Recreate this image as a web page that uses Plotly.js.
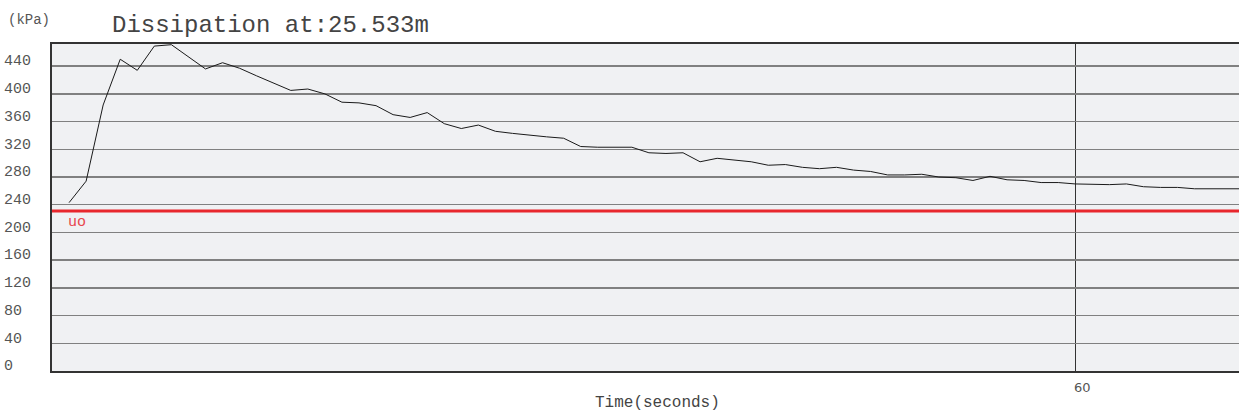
<!DOCTYPE html>
<html>
<head>
<meta charset="utf-8">
<script src="https://cdn.plot.ly/plotly-3.0.1.min.js"></script>
<style>
html,body{margin:0;padding:0;background:#fff;}
#chart{width:1239px;height:413px;}
</style>
</head>
<body>
<div id="chart"></div>
<script>
// Time (seconds)
const timeSec = [1,2,3,4,5,6,7,8,9,10,11,12,13,14,15,16,17,18,19,20,
  21,22,23,24,25,26,27,28,29,30,31,32,33,34,35,36,37,38,39,40,
  41,42,43,44,45,46,47,48,49,50,51,52,53,54,55,56,57,58,59,60,
  61,62,63,64,65,66,67,68,69,70];
// Pore pressure (kPa)
const pressure = [243,274,384,450,434,469,471,454,436,445,437,426,416,405,407,400,388,387,383,370,
  366,373,357,350,355,346,343,340,338,336,324,323,323,323,315,314,315,302,307,304,
  302,297,298,294,292,294,290,288,283,283,284,280,279,275,281,276,275,272,272,270,
  269,269,270,266,265,265,263,263,263,263];
// Reference line uo (kPa)
const uoValue = [231];
const uoLabel = ["uo"];
// Axis ticks
const yTickVals = [0,40,80,120,160,200,240,280,320,360,400,440];
const xTickVals = [60];
const xTickText = ["60"];
const titleText = "Dissipation at:25.533m";
const unitText = "(kPa)";
const xTitleText = "Time(seconds)";

const mono = "'Courier New', Courier, 'Liberation Mono', monospace";
const yTickText = yTickVals.map(v => {
  let s = String(v);
  while (s.length < 3) s += "\u00a0";
  return s;
});

const traces = [{
  type: "scatter",
  mode: "lines",
  x: timeSec,
  y: pressure,
  line: {color: "#1a1a1a", width: 1},
  hoverinfo: "x+y",
  showlegend: false,
  cliponaxis: true
}];

const layout = {
  width: 1239,
  height: 413,
  margin: {l: 52, r: 0, t: 44, b: 42, pad: 0},
  paper_bgcolor: "#ffffff",
  plot_bgcolor: "#f0f1f3",
  showlegend: false,
  title: {
    text: titleText,
    font: {family: mono, size: 24, color: "#444444"},
    xref: "container", yref: "container",
    x: 112/1239, xanchor: "left",
    y: 1 - 24/413, yanchor: "middle"
  },
  xaxis: {
    range: [0, 69.6],
    tickvals: xTickVals,
    ticktext: xTickText,
    ticks: "",
    showgrid: true,
    gridcolor: "#333333",
    gridwidth: 1,
    zeroline: false,
    showline: true,
    linecolor: "#333333",
    linewidth: 2,
    mirror: true,
    tickfont: {family: "'DejaVu Sans', sans-serif", size: 13, color: "#555555"},
    ticklabelshift: 7,
    ticklabelstandoff: 3,
    fixedrange: true
  },
  yaxis: {
    range: [0, 472],
    tickvals: yTickVals,
    ticktext: yTickText,
    ticks: "",
    showgrid: true,
    gridcolor: "#808080",
    gridwidth: 1.5,
    zeroline: false,
    showline: true,
    linecolor: "#333333",
    linewidth: 2,
    mirror: true,
    tickfont: {family: mono, size: 15, color: "#555555"},
    ticklabelshift: -6,
    ticklabelstandoff: 16,
    fixedrange: true
  },
  shapes: [{
    type: "line",
    xref: "paper", yref: "y",
    x0: 0, x1: 1,
    y0: uoValue[0], y1: uoValue[0],
    line: {color: "#e8272d", width: 3},
    layer: "above"
  }],
  annotations: [
    {
      text: uoLabel[0],
      xref: "paper", yref: "y",
      x: (66-52)/1187, y: uoValue[0],
      xanchor: "left", yanchor: "top",
      yshift: -1,
      showarrow: false,
      font: {family: mono, size: 15, color: "#e8474d"}
    },
    {
      text: unitText,
      xref: "paper", yref: "paper",
      x: (6-52)/1187, y: (371-20)/327,
      xanchor: "left", yanchor: "middle",
      showarrow: false,
      font: {family: mono, size: 14, color: "#555555"}
    },
    {
      text: xTitleText,
      xref: "paper", yref: "paper",
      x: (658-52)/1187, y: (371-403)/327,
      xanchor: "center", yanchor: "middle",
      showarrow: false,
      font: {family: mono, size: 16, color: "#444444"}
    }
  ]
};

Plotly.newPlot("chart", traces, layout, {displayModeBar: false, staticPlot: true});
</script>
</body>
</html>
